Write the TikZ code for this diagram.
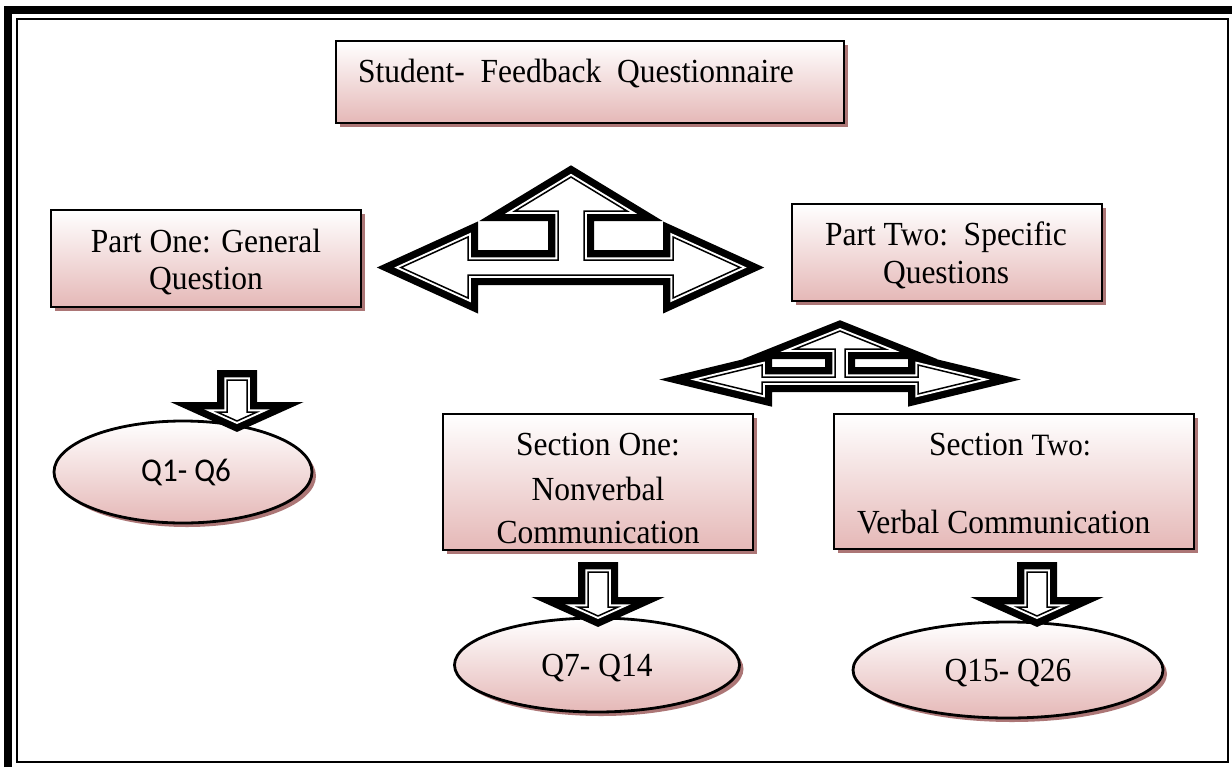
\documentclass[tikz,border=0pt]{standalone}
\usepackage{fontspec}
\setmainfont{Liberation Serif}
\newfontfamily\calibrifont{Carlito}
\usetikzlibrary{shapes.geometric,shadows}

\definecolor{boxpink}{RGB}{229,184,183}
\definecolor{shadowbrown}{RGB}{172,118,118}

% Block arrow with a thick-thin compound outline:
% thick black band outside, white gap, thin black line, white inside.
\newcommand\compoundoutline[1]{%
  \draw[line width=20pt, black, line join=miter] #1;
  \draw[line width=5.5pt, white, line join=miter] #1;
  \fill[white] #1;
  \draw[line width=1.5pt, black, line join=miter] #1;
}

\tikzset{
  panel/.style={draw=black, line width=2.8pt, top color=white, bottom color=boxpink,
    inner sep=0pt,
    drop shadow={shadow xshift=4pt, shadow yshift=-4pt, fill=shadowbrown, opacity=1}},
  box/.style={panel, rectangle},
  oval/.style={panel, ellipse},
  txt/.style={font=\fontsize{31.5}{38}\selectfont, inner sep=0pt, anchor=base,
    yscale=1.07, transform shape},
}

\begin{document}
\begin{tikzpicture}[x=1pt, y=-1pt]
\useasboundingbox (0,0) rectangle (1232,769);
\clip (0,0) rectangle (1232,769);
\fill[white] (0,0) rectangle (1232,769);

% page frame
\draw[line width=8pt] (8,767) -- (8,10) -- (1232,10);
\draw[line width=2.5pt] (17,19) rectangle (1228,762);

% title
\node[box, minimum width=508pt, minimum height=82pt] (title) at (590,82) {};
\node[txt, anchor=base west] (titletext) at (358,82) {Student-\ \ Feedback\ \ Questionnaire};

% part boxes
\node[box, minimum width=310pt, minimum height=97pt] (partone) at (206,258.5) {};
\node[txt] (partonea) at (206,252) {Part One: General};
\node[txt] (partoneb) at (206,289) {Question};

\node[box, minimum width=310pt, minimum height=97pt] (parttwo) at (947,252.5) {};
\node[txt] (parttwoa) at (946,245) {Part Two:\ \ Specific};
\node[txt] (parttwob) at (946,283) {Questions};

% section boxes
\node[box, minimum width=310pt, minimum height=136pt] (secone) at (598,482) {};
\node[txt] (seconea) at (598,455) {Section One:};
\node[txt] (seconeb) at (598,500) {Nonverbal};
\node[txt] (seconec) at (598,543) {Communication};

\node[box, minimum width=360pt, minimum height=135pt] (sectwo) at (1014,481.5) {};
\node[txt] (sectwoa) at (1010,455) {Section {\fontsize{29}{38}\selectfont Two:}};
\node[txt, anchor=base west] (sectwob) at (857,533) {Verbal Communication};

% question ranges
\node[oval, minimum width=258pt, minimum height=102pt] (qone) at (183,472) {};
\node[txt, font=\calibrifont\fontsize{31}{38}\selectfont] (qonetext) at (186,481) {Q1- Q6};

\node[oval, minimum width=285pt, minimum height=94pt] (qtwo) at (597,665) {};
\node[txt] (qtwotext) at (597,676) {Q7- Q14};

\node[oval, minimum width=310pt, minimum height=96pt] (qthree) at (1008,670) {};
\node[txt] (qthreetext) at (1008,681) {Q15- Q26};

% left-right-up arrow between the title and the two parts
\compoundoutline{(571,177) -- (627,211) -- (584,211) -- (584,260) -- (673,260) -- (673,237)
  -- (740,267.5) -- (673,298) -- (673,275) -- (468,275) -- (468,298) -- (401,267.5)
  -- (468,237) -- (468,260) -- (558,260) -- (558,211) -- (515,211) -- cycle}

% left-right-up arrow under part two
\compoundoutline{(840,331) -- (885,349) -- (845,349) -- (845,377) -- (918,377) -- (918,365)
  -- (978,379.5) -- (918,394) -- (918,382) -- (762,382) -- (762,394) -- (702,379.5)
  -- (762,365) -- (762,377) -- (835,377) -- (835,349) -- (795,349) -- cycle}

% down arrows
\compoundoutline{(227,380) -- (247,380) -- (247,412) -- (257,412) -- (237,421)
  -- (217,412) -- (227,412) -- cycle}
\compoundoutline{(588,572) -- (608,572) -- (608,607) -- (618,607) -- (598,616)
  -- (578,607) -- (588,607) -- cycle}
\compoundoutline{(1027,572) -- (1047,572) -- (1047,607) -- (1057,607) -- (1037,616)
  -- (1017,607) -- (1027,607) -- cycle}
\end{tikzpicture}
\end{document}
